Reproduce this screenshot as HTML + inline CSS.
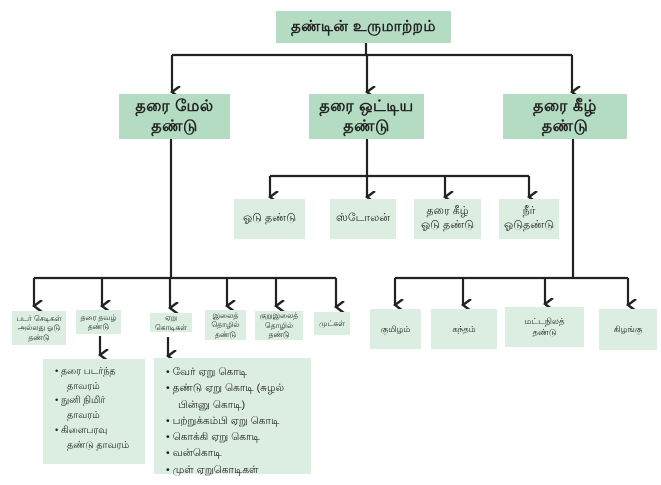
<!DOCTYPE html>
<html><head><meta charset="utf-8"><style>
body{margin:0;width:661px;height:485px;background:#fff;position:relative;overflow:hidden;font-family:"Liberation Sans","Noto Sans CJK SC",sans-serif;color:#222}
.b{position:absolute;display:flex;align-items:center;justify-content:center;text-align:center;background:#dbeee1;line-height:1.25}
.d{background:#b4dcc3;font-weight:bold;font-size:15px;letter-spacing:0.5px}
.l{position:absolute;background:#dbeee1;font-size:10.5px;line-height:1.55;padding:6px 4px 0 10px;box-sizing:border-box}
.l div{padding-left:14px;text-indent:-12px}
svg{position:absolute;left:0;top:0}
</style></head><body>
<svg width="661" height="485" stroke="#222" stroke-width="2.2" fill="none">
<defs><marker id="a" markerWidth="14" markerHeight="12" refX="6" refY="9" orient="auto" markerUnits="userSpaceOnUse"><path d="M0,1 L6,9 L12,1" stroke="#222" stroke-width="2.4" fill="none"/></marker></defs>
<path d="M366,43V55M172,55H572"/>
<path d="M172,55V92" marker-end="url(#a)"/><path d="M367,55V92" marker-end="url(#a)"/><path d="M572,55V92" marker-end="url(#a)"/>
<path d="M367,139V176M270,176H529"/>
<path d="M270,176V197" marker-end="url(#a)"/><path d="M367,176V197" marker-end="url(#a)"/><path d="M445,176V197" marker-end="url(#a)"/><path d="M529,176V197" marker-end="url(#a)"/>
<path d="M171,139V278M34,278H336"/>
<path d="M34,278V306" marker-end="url(#a)"/><path d="M102,278V306" marker-end="url(#a)"/><path d="M170,278V308" marker-end="url(#a)"/><path d="M227,278V306" marker-end="url(#a)"/><path d="M276,278V306" marker-end="url(#a)"/><path d="M336,278V307" marker-end="url(#a)"/>
<path d="M573,139V278M395,278H628"/>
<path d="M395,278V305" marker-end="url(#a)"/><path d="M463,278V305" marker-end="url(#a)"/><path d="M545,278V304" marker-end="url(#a)"/><path d="M628,278V305" marker-end="url(#a)"/>
<path d="M100,336V355" marker-end="url(#a)"/><path d="M168,337V356" marker-end="url(#a)"/>
</svg>
<div class="b d" style="left:276px;top:11px;width:175px;height:32px">தண்டின் உருமாற்றம்</div>
<div class="b d" style="left:119px;top:94px;width:111px;height:45px;font-size:16px">தரை மேல்<br>தண்டு</div>
<div class="b d" style="left:309px;top:94px;width:115px;height:45px;font-size:16px">தரை ஒட்டிய<br>தண்டு</div>
<div class="b d" style="left:503px;top:94px;width:124px;height:45px;font-size:16px">தரை கீழ்<br>தண்டு</div>
<div class="b" style="left:234px;top:199px;width:71px;height:40px;font-size:11px">ஓடு தண்டு</div>
<div class="b" style="left:330px;top:199px;width:66px;height:40px;font-size:11px">ஸ்டோலன்</div>
<div class="b" style="left:414px;top:199px;width:67px;height:40px;font-size:11px">தரை கீழ்<br>ஓடு தண்டு</div>
<div class="b" style="left:499px;top:199px;width:60px;height:40px;font-size:11px">நீர்<br>ஓடுதண்டு</div>
<div class="b" style="left:12px;top:311px;width:54px;height:34px;font-size:7.5px">படர் செடிகள்<br>அல்லது ஓடு<br>தண்டு</div>
<div class="b" style="left:76px;top:310px;width:45px;height:24px;font-size:7.5px">தரை தவழ்<br>தண்டு</div>
<div class="b" style="left:150px;top:313px;width:42px;height:19px;font-size:7.5px">ஏறு<br>கொடிகள்</div>
<div class="b" style="left:205px;top:310px;width:41px;height:30px;font-size:7.5px">இலைத்<br>தொழில்<br>தண்டு</div>
<div class="b" style="left:255px;top:311px;width:48px;height:29px;font-size:7.5px">குறுஇலைத்<br>தொழில்<br>தண்டு</div>
<div class="b" style="left:314px;top:312px;width:36px;height:23px;font-size:7.5px">முட்கள்</div>
<div class="b" style="left:370px;top:309px;width:51px;height:40px;font-size:8.5px">குமிழம்</div>
<div class="b" style="left:431px;top:309px;width:66px;height:40px;font-size:8.5px">கந்தம்</div>
<div class="b" style="left:505px;top:307px;width:79px;height:40px;font-size:8.5px">மட்டநிலத்<br>தண்டு</div>
<div class="b" style="left:599px;top:309px;width:58px;height:41px;font-size:8.5px">கிழங்கு</div>
<div class="l" style="left:43px;top:359px;width:102px;height:105px;font-size:9.5px">
<div>• தரை படர்ந்த<br>தாவரம்</div><div>• நுனி நிமிர்<br>தாவரம்</div><div>• கிளைபரவு<br>தண்டு தாவரம்</div></div>
<div class="l" style="left:154px;top:358px;width:157px;height:116px">
<div>• வேர் ஏறு கொடி</div><div>• தண்டு ஏறு கொடி (சுழல்<br>பின்னு கொடி)</div><div>• பற்றுக்கம்பி ஏறு கொடி</div><div>• கொக்கி ஏறு கொடி</div><div>• வன்கொடி</div><div>• முள் ஏறுகொடிகள்</div></div>
</body></html>
